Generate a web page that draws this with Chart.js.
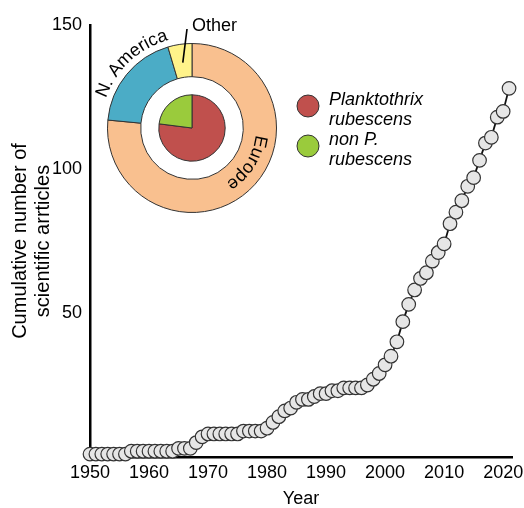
<!DOCTYPE html>
<html>
<head>
<meta charset="utf-8">
<script src="https://cdn.jsdelivr.net/npm/chart.js@4"></script>
<style>
  body { margin: 0; background: #fff; }
  #wrap { position: relative; width: 524px; height: 508px; }
  #main { position: absolute; left: 0; top: 0; }
  #inset { position: absolute; left: 72px; top: 8px; }
</style>
</head>
<body>
<div id="wrap">
  <canvas id="main" width="524" height="508"></canvas>
  <canvas id="inset" width="240" height="240"></canvas>
</div>
<script>
// cumulative number of articles per year
const years = [1950, 1951, 1952, 1953, 1954, 1955, 1956, 1957, 1958, 1959,
  1960, 1961, 1962, 1963, 1964, 1965, 1966, 1967, 1968, 1969,
  1970, 1971, 1972, 1973, 1974, 1975, 1976, 1977, 1978, 1979,
  1980, 1981, 1982, 1983, 1984, 1985, 1986, 1987, 1988, 1989,
  1990, 1991, 1992, 1993, 1994, 1995, 1996, 1997, 1998, 1999,
  2000, 2001, 2002, 2003, 2004, 2005, 2006, 2007, 2008, 2009,
  2010, 2011, 2012, 2013, 2014, 2015, 2016, 2017, 2018, 2019,
  2020, 2021];
const articles = [1, 1, 1, 1, 1, 1, 1, 2, 2, 2,
  2, 2, 2, 2, 2, 3, 3, 3, 5, 7,
  8, 8, 8, 8, 8, 8, 9, 9, 9, 9,
  10, 12, 14, 16, 17, 19, 20, 20, 21, 22,
  22, 23, 23, 24, 24, 24, 24, 25, 27, 29,
  32, 35, 40, 47, 53, 58, 62, 64, 68, 71,
  74, 81, 85, 89, 94, 97, 103, 109, 111, 118,
  120, 128];
const xTicks = [1950, 1960, 1970, 1980, 1990, 2000, 2010, 2020];
const yTicks = [50, 100, 150];

// inset: where the studies come from, and which organism
const regions = ['Europe', 'N. America', 'Other'];
const regionShare = [76.5, 18.9, 4.6];
const regionColors = ['#f9c08f', '#4bacc6', '#fff38a'];
const species = ['Planktothrix rubescens', 'non P. rubescens'];
const speciesShare = [77, 23];
const speciesColors = ['#c0504d', '#9acb3c'];

const FONT = "'Liberation Sans', Arial, sans-serif";
Chart.defaults.font.family = FONT;
Chart.defaults.color = '#000';

// legend for the inner pie, drawn next to the inset
const legendPlugin = {
  id: 'speciesLegend',
  afterDraw(chart) {
    const ctx = chart.ctx;
    const rows = [['Planktothrix', 'rubescens'], ['non P.', 'rubescens']];
    ctx.save();
    rows.forEach((lines, i) => {
      const cy = 106 + i * 40;
      ctx.beginPath();
      ctx.arc(308, cy, 11, 0, Math.PI * 2);
      ctx.fillStyle = speciesColors[i];
      ctx.fill();
      ctx.lineWidth = 1;
      ctx.strokeStyle = '#333';
      ctx.stroke();
      ctx.fillStyle = '#000';
      ctx.font = 'italic 18px ' + FONT;
      ctx.textAlign = 'left';
      ctx.textBaseline = 'alphabetic';
      ctx.fillText(lines[0], 329, cy - 1);
      ctx.fillText(lines[1], 329, cy + 19);
    });
    ctx.restore();
  }
};

new Chart(document.getElementById('main'), {
  type: 'line',
  data: {
    datasets: [{
      data: years.map((y, i) => ({ x: y, y: articles[i] })),
      borderColor: '#111',
      borderWidth: 1.8,
      pointRadius: 6.8,
      pointBackgroundColor: '#e6e6e6',
      pointBorderColor: '#333',
      pointBorderWidth: 1.2,
      tension: 0,
      clip: false
    }]
  },
  options: {
    responsive: false,
    animation: false,
    layout: { padding: { top: 25, right: 12, left: 0, bottom: 0 } },
    plugins: { legend: { display: false }, tooltip: { enabled: false } },
    scales: {
      x: {
        type: 'linear',
        min: 1950,
        max: 2021.5,
        grid: { display: false, drawTicks: false },
        border: { color: '#000', width: 2.5 },
        ticks: { font: { size: 18 }, padding: 5, callback: v => String(v) },
        afterBuildTicks: s => { s.ticks = xTicks.map(v => ({ value: v })); },
        afterFit: s => { s.height = 51; s.paddingLeft = 0; s.paddingRight = 0; },
        title: { display: true, text: 'Year', font: { size: 18, lineHeight: 1.0 }, padding: { top: 0, bottom: 0 } }
      },
      y: {
        min: 0,
        max: 150,
        grid: { display: false, drawTicks: false },
        border: { color: '#000', width: 2.5 },
        ticks: { font: { size: 18 }, padding: 8 },
        afterBuildTicks: s => { s.ticks = yTicks.map(v => ({ value: v })); },
        afterFit: s => { s.width = 90; },
        title: {
          display: true,
          text: ['Cumulative number of', 'scientific arrticles'],
          font: { size: 20, lineHeight: 1.15 },
          padding: { top: 9, bottom: 0 }
        }
      }
    }
  },
  plugins: [legendPlugin]
});

// write text along a circle; angles clockwise from 12 o'clock, letter tops outward
function arcText(ctx, text, cx, cy, r, midDeg) {
  const total = ctx.measureText(text).width;
  let a = midDeg * Math.PI / 180 - total / (2 * r);
  for (const ch of text) {
    const w = ctx.measureText(ch).width;
    const ac = a + w / (2 * r);
    ctx.save();
    ctx.translate(cx + r * Math.sin(ac), cy - r * Math.cos(ac));
    ctx.rotate(ac);
    ctx.fillText(ch, 0, 0);
    ctx.restore();
    a += w / r;
  }
}

const ringLabels = {
  id: 'ringLabels',
  afterDraw(chart) {
    const arc = chart.getDatasetMeta(0).data[0];
    const cx = arc.x, cy = arc.y;
    const ctx = chart.ctx;
    ctx.save();
    ctx.fillStyle = '#000';
    ctx.font = '18px ' + FONT;
    ctx.textAlign = 'center';
    ctx.textBaseline = 'alphabetic';
    arcText(ctx, 'N. America', cx, cy, 91, 317);
    arcText(ctx, 'Europe', cx, cy, 64, 122);
    ctx.textAlign = 'left';
    ctx.fillText('Other', cx, cy - 97);
    // leader line into the small slice
    const a = 352 * Math.PI / 180;
    ctx.beginPath();
    ctx.moveTo(cx - 5, cy - 99);
    ctx.lineTo(cx + 66 * Math.sin(a), cy - 66 * Math.cos(a));
    ctx.lineWidth = 1.6;
    ctx.strokeStyle = '#000';
    ctx.stroke();
    ctx.restore();
  }
};

new Chart(document.getElementById('inset'), {
  type: 'doughnut',
  data: {
    labels: regions,
    datasets: [
      { data: regionShare, backgroundColor: regionColors, borderColor: '#333', borderWidth: 1, weight: 33 },
      { data: [1], backgroundColor: 'rgba(0,0,0,0)', borderWidth: 0, weight: 18 },
      { data: speciesShare, backgroundColor: speciesColors, borderColor: '#333', borderWidth: 1, weight: 33 }
    ]
  },
  options: {
    responsive: false,
    animation: false,
    cutout: 0,
    layout: { padding: 35 },
    plugins: { legend: { display: false }, tooltip: { enabled: false } }
  },
  plugins: [ringLabels]
});
</script>
</body>
</html>
